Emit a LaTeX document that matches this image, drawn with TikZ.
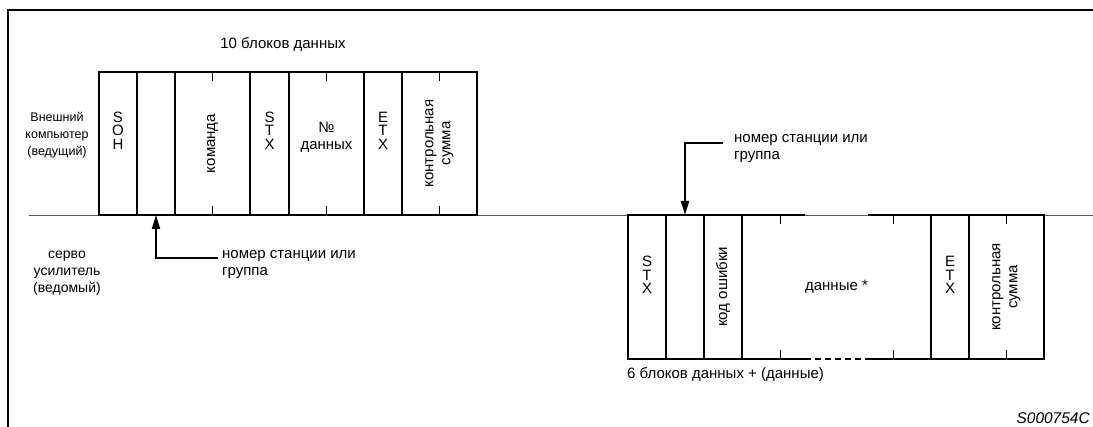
\documentclass[tikz,border=0pt]{standalone}
\usepackage{fontspec}
\setmainfont{Liberation Sans}
\usetikzlibrary{arrows.meta}
\newcommand{\lblfont}{\fontsize{15}{17}\selectfont}
\newcommand{\srvfont}{\fontsize{14}{17}\selectfont}
\newcommand{\smfont}{\fontsize{12.5}{17}\selectfont}
\newcommand{\stackfont}{\fontsize{15}{13.5}\selectfont}
\begin{document}
\begin{tikzpicture}[x=1pt,y=-1pt,
  frame/.style={line width=1.6pt},
  cell/.style={draw, line width=1.5pt, inner sep=0pt, outer sep=0pt, anchor=north west, minimum height=#1},
  edge/.style={line width=1.5pt},
  tick/.style={line width=0.8pt},
  baseline/.style={line width=0.8pt, gray!70!black},
  arr/.style={line width=2pt, -{Triangle[length=14pt,width=8pt]}},
  txt/.style={font=\lblfont, align=center, inner sep=0pt},
  stk/.style={font=\stackfont, align=center, inner sep=0pt},
  rot/.style={font=\lblfont, align=center, inner sep=0pt, rotate=90}
]
\useasboundingbox (0,0) rectangle (1093,427);
% frame
\coordinate (F1) at (8,427);
\coordinate (F2) at (8,10);
\coordinate (F3) at (1093,10);
\draw[frame] (F1) -- (F2) -- (F3);
% base line
\coordinate (L) at (29,215);
\coordinate (R) at (1093,215);
\draw[baseline] (L) -- (R);
% top boxes
\node[cell=143, minimum width=38] (tb1) at (99,72) {};
\node[cell=143, minimum width=38] (tb2) at (137,72) {};
\node[cell=143, minimum width=75] (tb3) at (175,72) {};
\node[cell=143, minimum width=39] (tb4) at (250,72) {};
\node[cell=143, minimum width=75] (tb5) at (289,72) {};
\node[cell=143, minimum width=38] (tb6) at (364,72) {};
\node[cell=143, minimum width=75] (tb7) at (402,72) {};
\foreach \b in {tb3,tb5,tb7}{
  \draw[tick] (\b.north) -- ++(0,9);
  \draw[tick] (\b.south) -- ++(0,-9);
}
\node[stk] (t1) at ([yshift=13]tb1.center) {S\\O\\H};
\node[rot] (t3) at (tb3.center) {команда};
\node[stk] (t4) at ([yshift=13]tb4.center) {S\\T\\X};
\node[txt] (t5) at ([yshift=6]tb5.center) {№\\данных};
\node[stk] (t6) at ([yshift=13]tb6.center) {E\\T\\X};
\node[rot] (t7) at (tb7.center) {контрольная\\сумма};
% bottom boxes
\node[cell=144, minimum width=38] (bb1) at (628,215) {};
\node[cell=144, minimum width=38] (bb2) at (666,215) {};
\node[cell=144, minimum width=38] (bb3) at (704,215) {};
\node[inner sep=0pt, outer sep=0pt, anchor=north west, minimum width=189, minimum height=144] (bb4) at (742,215) {};
\node[cell=144, minimum width=38] (bb5) at (931,215) {};
\node[cell=144, minimum width=75] (bb6) at (969,215) {};
\draw[edge] ([xshift=63]bb4.north west) -- (bb4.north west) -- (bb4.south west) -- ([xshift=63]bb4.south west);
\draw[edge] ([xshift=-63]bb4.north east) -- (bb4.north east) -- (bb4.south east) -- ([xshift=-63]bb4.south east);
\draw[edge, dash pattern=on 6pt off 4pt] ([xshift=63]bb4.south west) -- ([xshift=-63]bb4.south east);
\draw[tick] ([xshift=38]bb4.north west) -- ++(0,9);
\draw[tick] ([xshift=38]bb4.south west) -- ++(0,-9);
\draw[tick] ([xshift=-38]bb4.north east) -- ++(0,9);
\draw[tick] ([xshift=-38]bb4.south east) -- ++(0,-9);
\draw[tick] (bb6.north) -- ++(0,9);
\draw[tick] (bb6.south) -- ++(0,-9);
\node[stk] (s1) at ([yshift=12]bb1.center) {S\\T\\X};
\node[rot] (s3) at (bb3.center) {код ошибки};
\node[txt] (s4) at (bb4.center) {данные *};
\node[stk] (s5) at ([yshift=12]bb5.center) {E\\T\\X};
\node[rot] (s6) at (bb6.center) {контрольная\\сумма};
% side labels
\node[font=\smfont, align=center, inner sep=0pt] (host) at (57,135) {Внешний\\компьютер\\(ведущий)};
\node[font=\srvfont, align=center, inner sep=0pt] (servo) at (67,273) {серво\\усилитель\\(ведомый)};
\node[txt] (top) at (283,44) {10 блоков данных};
\node[txt, anchor=west] (bot) at (627,375) {6 блоков данных + (данные)};
\node[txt, anchor=east, font=\fontsize{15.5}{17}\selectfont\itshape] (code) at (1090,418) {S000754C};
% station labels and arrows
\node[txt, align=left, anchor=west] (lab1) at (734,149) {номер станции или\\группа};
\coordinate (c1) at (723,143);
\draw[arr] (c1) -| (bb2.north);
\node[txt, align=left, anchor=west] (lab2) at (222,265) {номер станции или\\группа};
\coordinate (c2) at (218,258);
\draw[arr] (c2) -| (tb2.south);
\end{tikzpicture}
\end{document}
